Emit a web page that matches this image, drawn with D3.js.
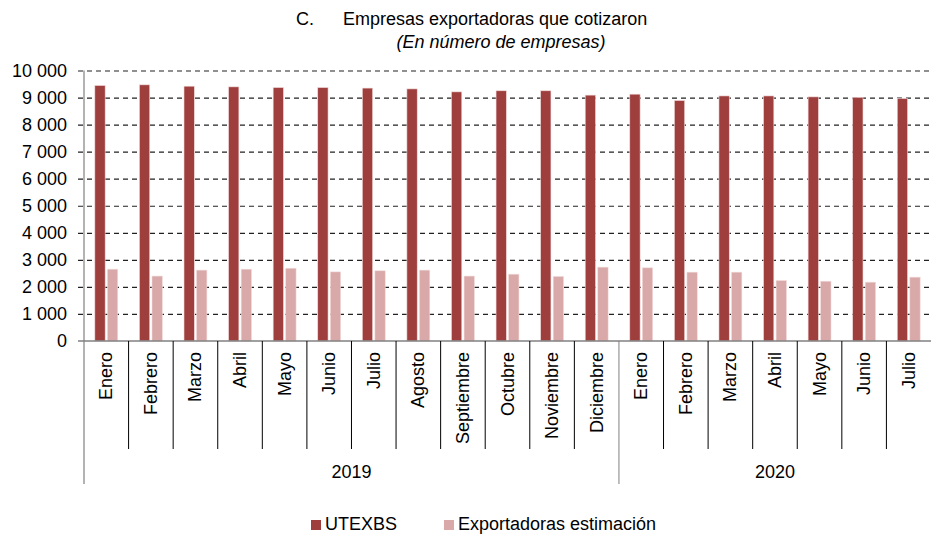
<!DOCTYPE html>
<html>
<head>
<meta charset="utf-8">
<script src="https://cdn.jsdelivr.net/npm/d3@7"></script>
<style>
  body { margin: 0; background: #fff; }
  text { font-family: "Liberation Sans", Arial, sans-serif; fill: #000; }
</style>
</head>
<body>
<div id="chart"></div>
<script>
// Data
var months = ["Enero", "Febrero", "Marzo", "Abril", "Mayo", "Junio", "Julio", "Agosto",
  "Septiembre", "Octubre", "Noviembre", "Diciembre",
  "Enero", "Febrero", "Marzo", "Abril", "Mayo", "Junio", "Julio"];
var years = ["2019", "2020"];
var monthsPerYear = [12, 7];
var seriesNames = ["UTEXBS", "Exportadoras estimación"];
var utexbs = [9445, 9470, 9420, 9395, 9370, 9370, 9350, 9320, 9210, 9250, 9250, 9090,
  9125, 8890, 9060, 9060, 9025, 9010, 8965];
var estimacion = [2655, 2400, 2620, 2655, 2690, 2555, 2595, 2620, 2400, 2470, 2385, 2730,
  2705, 2545, 2545, 2235, 2210, 2175, 2360];
var yTicks = [0, 1000, 2000, 3000, 4000, 5000, 6000, 7000, 8000, 9000, 10000];

var colors = ["#9e3f3e", "#d9a8a8"];
var fontSize = "18px";

// Setup chart
var svgWidth = 931;
var svgHeight = 535;
var margin = { top: 70.5, right: 0, bottom: 194, left: 84 };
var width = svgWidth - margin.left - margin.right;
var height = svgHeight - margin.top - margin.bottom;

var svg = d3.select("#chart")
  .append("svg")
  .attr("width", svgWidth)
  .attr("height", svgHeight);

var chartGroup = svg.append("g")
  .attr("transform", `translate(${margin.left}, ${margin.top})`);

// Scales
var idx = d3.range(months.length);
var xScale = d3.scaleBand()
  .domain(idx)
  .range([0, width])
  .paddingInner(0)
  .paddingOuter(0);
var bw = xScale.bandwidth();

var xInner = d3.scaleBand()
  .domain(seriesNames)
  .range([bw / 2 - 11.45, bw / 2 + 11.45])
  .paddingInner(0.18);

var yScale = d3.scaleLinear()
  .domain([0, 10000])
  .range([height, 0]);

var fmt = function(d) { return d3.format(",")(d).replace(",", " "); };

// Gridlines
var yAxis = d3.axisLeft(yScale)
  .tickValues(yTicks)
  .tickSize(-(width + 6))
  .tickFormat(fmt)
  .tickPadding(11);

var yG = chartGroup.append("g")
  .attr("transform", "translate(-6,0)")
  .call(yAxis);
yG.select(".domain").remove();
yG.selectAll(".tick line")
  .attr("stroke", "#222")
  .attr("stroke-width", 1.2)
  .attr("stroke-dasharray", "5,4")
  .filter(function(d) { return d === 0; })
  .remove();
yG.selectAll(".tick text")
  .style("font-size", fontSize)
  .attr("fill", "#000");

// Bars
var table = idx.map(function(i) {
  return { i: i, values: [utexbs[i], estimacion[i]] };
});

var groups = chartGroup.selectAll(".grp")
  .data(table)
  .enter().append("g")
  .attr("class", "grp")
  .attr("transform", function(d) { return `translate(${xScale(d.i)},0)`; });

groups.selectAll("rect")
  .data(function(d) { return d.values.map(function(v, k) { return { s: seriesNames[k], v: v, k: k }; }); })
  .enter().append("rect")
  .attr("x", function(d) { return xInner(d.s); })
  .attr("width", xInner.bandwidth())
  .attr("y", function(d) { return yScale(d.v); })
  .attr("height", function(d) { return height - yScale(d.v); })
  .attr("fill", function(d) { return colors[d.k]; })
  .attr("stroke", "#f2dada")
  .attr("stroke-width", 0.6);

// Axis lines
chartGroup.append("line")
  .attr("x1", -6).attr("x2", width)
  .attr("y1", height).attr("y2", height)
  .attr("stroke", "#808080").attr("stroke-width", 1.5);
chartGroup.append("line")
  .attr("x1", 0).attr("x2", 0)
  .attr("y1", 0).attr("y2", height + 143)
  .attr("stroke", "#808080").attr("stroke-width", 1.2);

// Category separators
chartGroup.selectAll(".sep")
  .data(idx.slice(1))
  .enter().append("line")
  .attr("x1", function(i) { return xScale(i); })
  .attr("x2", function(i) { return xScale(i); })
  .attr("y1", height)
  .attr("y2", function(i) { return i === monthsPerYear[0] ? height + 143 : height + 108; })
  .attr("stroke", function(i) { return i === monthsPerYear[0] ? "#808080" : "#000"; })
  .attr("stroke-width", 1);

// Month labels
chartGroup.selectAll(".mlabel")
  .data(idx)
  .enter().append("text")
  .attr("transform", function(i) {
    return `translate(${xScale(i) + bw / 2 + 6}, ${height + 11}) rotate(-90)`;
  })
  .attr("text-anchor", "end")
  .style("font-size", fontSize)
  .text(function(i) { return months[i]; });

// Year labels
var start = 0;
years.forEach(function(y, k) {
  var x0 = xScale(start);
  var end = start + monthsPerYear[k] - 1;
  var x1 = xScale(end) + bw;
  chartGroup.append("text")
    .attr("x", (x0 + x1) / 2)
    .attr("y", height + 137)
    .attr("text-anchor", "middle")
    .style("font-size", fontSize)
    .text(y);
  start += monthsPerYear[k];
});

// Title
svg.append("text")
  .attr("x", 296).attr("y", 25)
  .style("font-size", fontSize)
  .text("C.");
svg.append("text")
  .attr("x", 343).attr("y", 25)
  .style("font-size", fontSize)
  .text("Empresas exportadoras que cotizaron");
svg.append("text")
  .attr("x", 501).attr("y", 48)
  .attr("text-anchor", "middle")
  .style("font-size", fontSize)
  .style("font-style", "italic")
  .text("(En número de empresas)");

// Legend
var legendX = [311, 444];
var legend = svg.selectAll(".legend")
  .data(seriesNames)
  .enter().append("g")
  .attr("transform", function(d, k) { return `translate(${legendX[k]}, 530)`; });
legend.append("rect")
  .attr("x", 0).attr("y", -10)
  .attr("width", 10).attr("height", 10)
  .attr("fill", function(d, k) { return colors[k]; });
legend.append("text")
  .attr("x", 14).attr("y", 0)
  .style("font-size", fontSize)
  .text(function(d) { return d; });
</script>
</body>
</html>
